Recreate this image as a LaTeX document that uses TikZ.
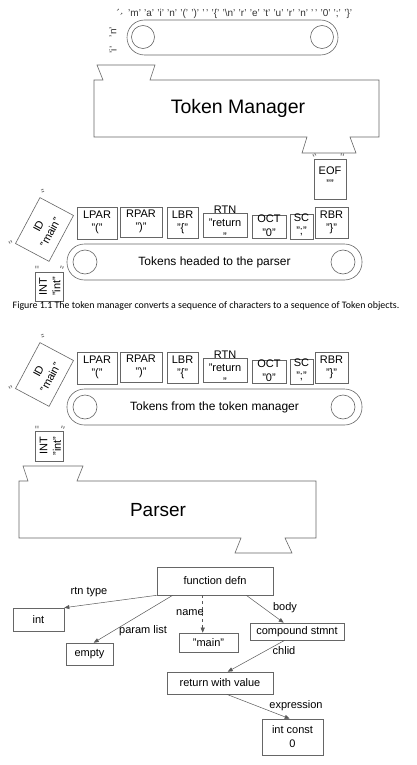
\documentclass[tikz,border=0pt]{standalone}
\usepackage{fontspec}
\setmainfont{Liberation Sans}
\newfontfamily\capfont{Carlito}
\usetikzlibrary{arrows.meta}
\tikzset{
  gline/.style={draw=black!60, line width=0.6pt},
  tokbox/.style={draw=black!60, line width=0.6pt, inner sep=0pt, fill=white},
  toktxt/.style={font=\fontsize{11}{13.5}\selectfont, align=center, inner sep=0pt},
  beltbox/.style={draw=black!60, line width=0.6pt, rounded corners=17.5pt, inner sep=0pt, font=\fontsize{12}{14}\selectfont},
  pulley/.style={draw=black!60, line width=0.6pt, circle, inner sep=0pt, minimum size=24pt},
  bigtxt/.style={inner sep=0pt},
  treebox/.style={draw=black!60, line width=0.6pt, inner sep=0pt, align=center, font=\fontsize{11}{14}\selectfont},
  lbl/.style={inner sep=0pt, font=\fontsize{11}{13}\selectfont},
  tedge/.style={draw=black!65, line width=0.5pt, -{Triangle[length=5pt,width=4pt]}},
  tick/.style={inner sep=0pt, font=\fontsize{12}{12}\selectfont, text=black!55},
  chr/.style={inner sep=0pt, font=\fontsize{10}{10}\selectfont, text=black!80}
}
\newcommand\mktok[7]{%
  \node[tokbox, minimum width=#4, minimum height=#5] (#1) at (#2,#3) {};
  \node[toktxt] (#1t) at (#2,#6) {#7};}
\newcommand\tq{\textquotedbl}
\newcommand\tokrow[1]{%
  \mktok{#1lpar}{97}{223}{40}{32}{222.5}{LPAR\\"("}
  \mktok{#1rpar}{141}{222}{42}{30}{221.5}{RPAR\\")"}
  \mktok{#1lbr}{182.5}{222.5}{31}{31}{222.5}{LBR\\"\{"}
  \mktok{#1rtn}{225}{225}{44}{24}{223}{RTN\\"return\\"}
  \mktok{#1oct}{269}{226.5}{34}{23}{225.5}{OCT\\"0"}
  \mktok{#1sc}{301.5}{226.5}{23}{25}{225}{SC\\";"}
  \mktok{#1rbr}{331.5}{222.5}{33}{31}{222.5}{RBR\\"\}"}
  \node[tokbox, rotate=62, minimum width=52, minimum height=38] (#1id) at (44.5,229.5) {};
  \node[toktxt, rotate=62] (#1idt) at (44.5,229.5) {ID\\"main"};
  \node[tick, rotate=-70] (#1tk1) at (40,192) {\tq};
  \node[tick, rotate=30] (#1tk2) at (12,245) {\tq};
}
\begin{document}
\begin{tikzpicture}[x=1pt,y=-1pt]
\useasboundingbox (0,0) rectangle (416,765);

% ---------- top belt with characters ----------
\node[beltbox, minimum width=211, minimum height=35] (belt0) at (232.5,37.5) {};
\node[pulley, minimum size=23pt] (p0l) at (143,37) {};
\node[pulley, minimum size=23pt] (p0r) at (322,37) {};
\node[chr, anchor=base west] (chars) at (128,17) {\makebox[224pt][s]{'m' 'a' 'i' 'n' '(' ')' '\,' '\{' '\textbackslash n' 'r' 'e' 't' 'u' 'r' 'n' '\,' '0' ';' '\}'}};
\node[chr, rotate=-45] (csp) at (118,14) {' '};
\node[chr, rotate=90] (cn) at (113,32) {'n'};
\node[chr, rotate=90] (ci) at (113,50) {'i'};

% ---------- Token Manager ----------
\draw[gline] (94,80) -- (103,80) -- (97,65) -- (155,65) -- (150,80) -- (379,80)
  -- (379,137) -- (350,137) -- (356,153) -- (302,153) -- (307,137) -- (94,137) -- cycle;
\node[bigtxt, font=\fontsize{19.5}{22}\selectfont] (tm) at (238,108) {Token Manager};

% EOF
\node[tokbox, minimum width=32, minimum height=40] (eof) at (330,179) {};
\node[toktxt] (eoft) at (330,177) {EOF\\""};
\node[tick, rotate=30] (etk1) at (316,158) {\tq};
\node[tick, rotate=-10] (etk2) at (342,158) {\tq};

% ---------- row 1 ----------
\begin{scope}
\tokrow{a}
\end{scope}
\node[beltbox, minimum width=295, minimum height=36] (belt1) at (214.5,262) {Tokens headed to the parser};
\node[pulley] (ap1) at (85,262) {};
\node[pulley] (ap2) at (343,262) {};
\node[tokbox, minimum width=28, minimum height=29] (aint) at (49,286.5) {};
\node[toktxt, rotate=90] (aintt) at (50,286.5) {INT\\"int"};
\node[tick, rotate=0] (atk3) at (37,270) {\tq};
\node[tick, rotate=-20] (atk4) at (61,270) {\tq};

% caption
\node[inner sep=0pt, font=\capfont\fontsize{9.9}{11}\selectfont] (cap) at (206,306) {Figure 1.1 The token manager converts a sequence of characters to a sequence of Token objects.};

% ---------- row 2 ----------
\begin{scope}[shift={(0,145)}]
\tokrow{b}
\end{scope}
\node[beltbox, minimum width=295, minimum height=36] (belt2) at (214.5,407) {Tokens from the token manager};
\node[pulley] (bp1) at (85,407) {};
\node[pulley] (bp2) at (343,407) {};
\node[tokbox, minimum width=28, minimum height=30] (bint) at (49.5,446) {};
\node[toktxt, rotate=90] (bintt) at (50.5,446) {INT\\"int"};
\node[tick, rotate=0] (btk3) at (37,430) {\tq};
\node[tick, rotate=-20] (btk4) at (62,430) {\tq};

% ---------- Parser ----------
\draw[gline] (19,481) -- (28,481) -- (23,466) -- (83,466) -- (77,481) -- (316,481)
  -- (316,538) -- (285,538) -- (292,553) -- (235,553) -- (241,538) -- (19,538) -- cycle;
\node[bigtxt, font=\fontsize{19}{22}\selectfont] (parser) at (158,510) {Parser};

% ---------- tree ----------
\node[treebox, minimum width=116, minimum height=28] (fd) at (215,581) {function defn};
\node[treebox, minimum width=51, minimum height=23] (int) at (38.5,619.5) {int};
\node[treebox, minimum width=47, minimum height=22] (empty) at (89.5,654) {empty};
\node[treebox, minimum width=59, minimum height=19] (main) at (208.5,642.5) {"main"};
\node[treebox, minimum width=94, minimum height=17] (cs) at (297,631.5) {compound stmnt};
\node[treebox, minimum width=106, minimum height=22] (rv) at (220,683) {return with value};
\node[treebox, minimum width=61, minimum height=36] (ic) at (292.5,737) {int const\\0};

\draw[tedge] (fd.south west) -- (int.north east);
\draw[tedge] ([xshift=16pt]fd.south west) -- ([xshift=28pt]empty.north west);
\draw[tedge, dashed] ([xshift=46pt]fd.south west) -- ([xshift=24pt]main.north west);
\draw[tedge] ([xshift=-27pt]fd.south east) -- ([xshift=34pt]cs.north west);
\draw[tedge] ([xshift=35pt]cs.south west) -- ([xshift=61pt]rv.north west);
\draw[tedge] ([xshift=60pt]rv.south west) -- ([xshift=28pt]ic.north west);

\node[lbl] (lrtn) at (89,592) {rtn type};
\node[lbl] (lpar) at (143,631) {param list};
\node[lbl] (lname) at (190,613) {name};
\node[lbl] (lbody) at (285,608) {body};
\node[lbl] (lchild) at (284,651) {chlid};
\node[lbl] (lexpr) at (296,706) {expression};
\end{tikzpicture}
\end{document}
